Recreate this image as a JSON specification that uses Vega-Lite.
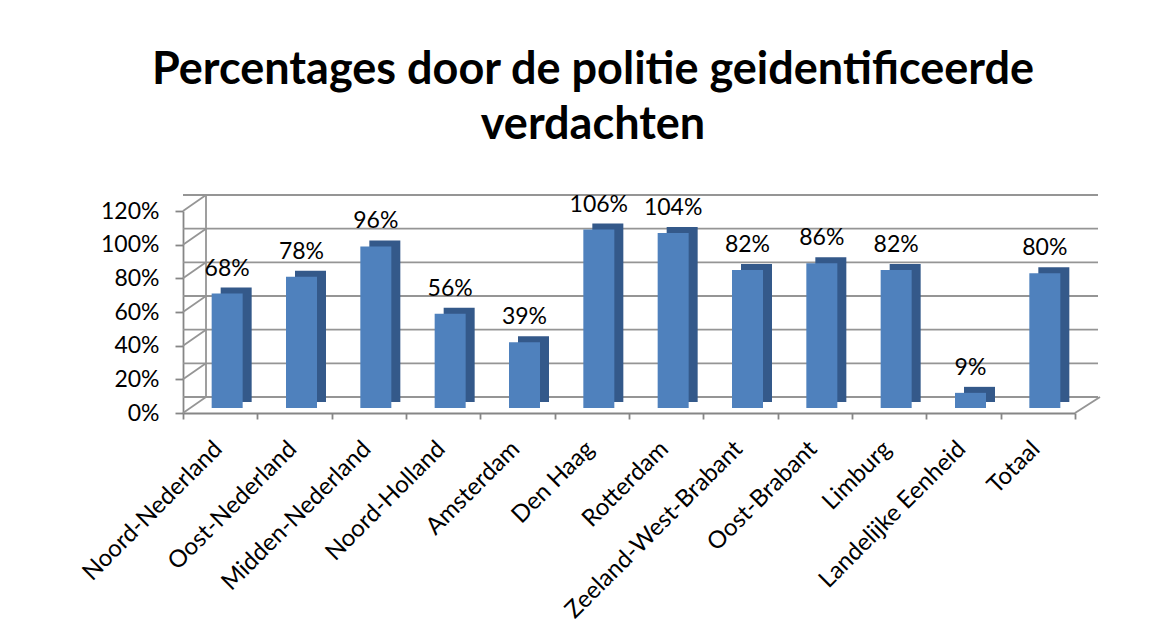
{
  "$schema": "https://vega.github.io/schema/vega-lite/v6.json",
  "width": 892,
  "height": 202,
  "autosize": {"type": "none"},
  "padding": {"left": 183, "top": 211, "right": 98, "bottom": 228},
  "background": "white",
  "title": {
    "text": ["Percentages door de politie geidentificeerde", "verdachten"],
    "font": "Lato",
    "fontSize": 45,
    "fontWeight": "bold",
    "color": "#000000",
    "anchor": "middle",
    "dx": -36,
    "offset": 46,
    "lineHeight": 55
  },
  "config": {
    "view": {"stroke": null},
    "axis": {"grid": false}
  },
  "datasets": {
    "bars": [
      {"regio": "Noord-Nederland", "p": 0.68},
      {"regio": "Oost-Nederland", "p": 0.78},
      {"regio": "Midden-Nederland", "p": 0.96},
      {"regio": "Noord-Holland", "p": 0.56},
      {"regio": "Amsterdam", "p": 0.39},
      {"regio": "Den Haag", "p": 1.06},
      {"regio": "Rotterdam", "p": 1.04},
      {"regio": "Zeeland-West-Brabant", "p": 0.82},
      {"regio": "Oost-Brabant", "p": 0.86},
      {"regio": "Limburg", "p": 0.82},
      {"regio": "Landelijke Eenheid", "p": 0.09},
      {"regio": "Totaal", "p": 0.80}
    ],
    "grid": [
      {"p": 0}, {"p": 0.2}, {"p": 0.4}, {"p": 0.6}, {"p": 0.8}, {"p": 1.0}, {"p": 1.2}
    ]
  },
  "encoding": {
    "y": {
      "field": "p",
      "type": "quantitative",
      "scale": {"domain": [0, 1.2], "nice": false},
      "axis": {
        "title": null,
        "format": ".0%",
        "values": [0, 0.2, 0.4, 0.6, 0.8, 1.0, 1.2],
        "tickCount": 7,
        "labelOverlap": false,
        "labelFont": "Lato",
        "labelFontSize": 23,
        "labelColor": "#000000",
        "labelPadding": 16,
        "domainColor": "#868686",
        "domainWidth": 1.8,
        "tickColor": "#868686",
        "tickWidth": 1.8,
        "tickSize": 8
      }
    }
  },
  "layer": [
    {
      "data": {"name": "grid"},
      "mark": {"type": "rule", "color": "#959595", "strokeWidth": 1.8, "xOffset": 23, "x2Offset": 25, "yOffset": -16},
      "encoding": {}
    },
    {
      "data": {"name": "grid"},
      "mark": {"type": "rule", "color": "#959595", "strokeWidth": 1.8, "x2Offset": 23, "y2Offset": -16},
      "encoding": {
        "x": {"datum": "Noord-Nederland", "type": "nominal", "bandPosition": 0},
        "x2": {"datum": "Noord-Nederland", "bandPosition": 0},
        "y2": {"field": "p"}
      }
    },
    {
      "data": {"name": "grid"},
      "transform": [{"filter": "datum.p === 0"}],
      "mark": {"type": "rule", "color": "#959595", "strokeWidth": 1.8, "xOffset": 23, "x2Offset": 23, "yOffset": -16, "y2Offset": -16},
      "encoding": {
        "x": {"datum": "Noord-Nederland", "type": "nominal", "bandPosition": 0},
        "x2": {"datum": "Noord-Nederland", "bandPosition": 0},
        "y2": {"datum": 1.2}
      }
    },
    {
      "data": {"name": "grid"},
      "transform": [{"filter": "datum.p === 0"}],
      "mark": {"type": "rule", "color": "#959595", "strokeWidth": 1.8, "x2Offset": 25, "y2Offset": -16},
      "encoding": {
        "x": {"datum": "Totaal", "type": "nominal", "bandPosition": 1},
        "x2": {"datum": "Totaal", "bandPosition": 1},
        "y2": {"field": "p"}
      }
    },
    {
      "data": {"name": "bars"},
      "mark": {"type": "bar", "color": "#34598a", "width": 31, "xOffset": 16, "yOffset": -11, "y2Offset": -11},
      "encoding": {
        "x": {
          "field": "regio",
          "type": "nominal",
          "scale": {
            "domain": ["Noord-Nederland", "Oost-Nederland", "Midden-Nederland", "Noord-Holland", "Amsterdam", "Den Haag", "Rotterdam", "Zeeland-West-Brabant", "Oost-Brabant", "Limburg", "Landelijke Eenheid", "Totaal"],
            "paddingInner": 0,
            "paddingOuter": 0
          },
          "axis": {
            "title": null,
            "tickBand": "extent",
            "labelAngle": -45,
            "labelAlign": "right",
            "labelBaseline": "middle",
            "labelFont": "Lato",
            "labelFontSize": 24,
            "labelColor": "#000000",
            "labelOffset": -2,
            "labelPadding": 26,
            "labelLimit": 0,
            "labelOverlap": false,
            "domainColor": "#868686",
            "domainWidth": 1.8,
            "tickColor": "#868686",
            "tickWidth": 1.8,
            "tickSize": 6
          }
        }
      }
    },
    {
      "data": {"name": "bars"},
      "mark": {"type": "bar", "color": "#4f81bd", "width": 31, "xOffset": 7, "yOffset": -5, "y2Offset": -5},
      "encoding": {
        "x": {"field": "regio", "type": "nominal"}
      }
    },
    {
      "data": {"name": "bars"},
      "mark": {"type": "text", "font": "Lato", "fontSize": 23, "color": "#000000", "baseline": "alphabetic", "xOffset": 7, "yOffset": -23},
      "encoding": {
        "x": {"field": "regio", "type": "nominal"},
        "text": {"field": "p", "type": "quantitative", "format": ".0%"}
      }
    }
  ]
}
